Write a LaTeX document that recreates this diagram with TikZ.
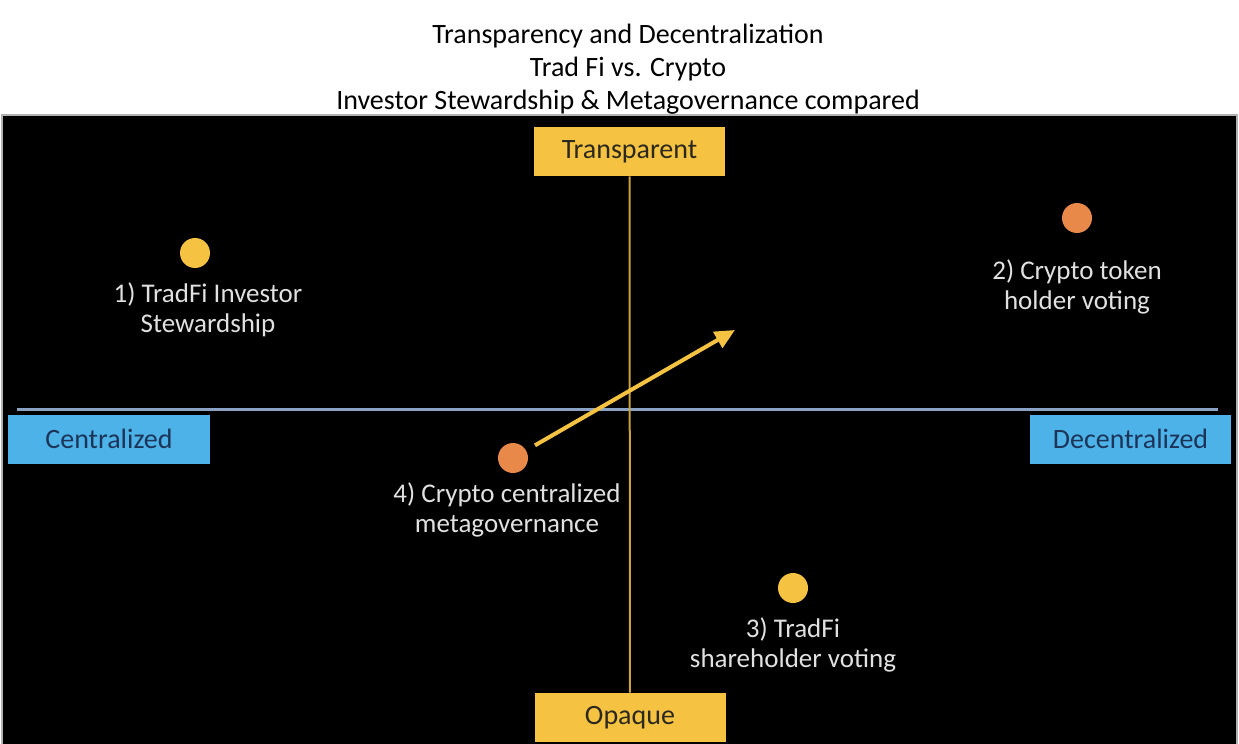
\documentclass[tikz,border=0pt]{standalone}
\usepackage{fontspec}
\setmainfont{Carlito}
\usepackage{tikz}
\usetikzlibrary{positioning, arrows.meta}
\definecolor{axisYellow}{RGB}{245, 194, 66}
\definecolor{axisBlue}{RGB}{76, 178, 232}
\definecolor{lineGold}{RGB}{201, 161, 63}
\definecolor{lineBlue}{RGB}{138, 163, 196}
\definecolor{dotOrange}{RGB}{232, 137, 74}
\definecolor{boxText}{RGB}{43, 40, 30}
\definecolor{navyText}{RGB}{28, 52, 88}
\definecolor{softWhite}{RGB}{225, 225, 225}

\begin{document}
\begin{tikzpicture}[
          x=0.5pt, y=-0.5pt,
          node distance=7pt,
          axisbox/.style={rectangle, minimum width=95.5pt, minimum height=24.5pt, inner sep=0pt, font=\fontsize{14}{16}\selectfont},
          dot/.style={circle, minimum size=15pt, inner sep=0pt},
          pointtext/.style={align=center, text=softWhite, inner sep=0pt, font=\fontsize{13.5}{15}\selectfont},
          arrow/.style={-{Triangle[length=10pt, width=9pt]}, line width=2pt}
        ]
          \useasboundingbox (0,0) rectangle (1239,744);
          \fill[white] (0,0) rectangle (1239,744);
          \node[align=center, font=\fontsize{14}{16.5}\selectfont] (title) at (628,69)
            {Transparency and Decentralization\\Trad Fi vs. Crypto\\Investor Stewardship \& Metagovernance compared};
          \fill[black, draw=gray!60, line width=0.6pt] (2,115) rectangle (1237,746);

          % axes
          \node[axisbox, fill=axisYellow, text=boxText] (transparent) at (629.5,151.5) {Transparent};
          \node[axisbox, fill=axisYellow, text=boxText] (opaque) at (630,717.5) {Opaque};
          \node[axisbox, fill=axisBlue, text=navyText, minimum width=101pt] (central) at (109,439) {Centralized};
          \node[axisbox, fill=axisBlue, text=navyText, minimum width=100.5pt] (decentral) at (1130.5,439) {Decentralized};
          \coordinate (hleft) at (17,409);
          \coordinate (hright) at (1218,409);
          \draw[lineBlue, line width=1.5pt] (hleft) -- (hright);
          \draw[lineGold, line width=1pt] (transparent) -- (opaque);

          % points
          \node[dot, fill=axisYellow] (dot1) at (195,253) {};
          \node[dot, fill=dotOrange] (dot2) at (1077,218) {};
          \node[dot, fill=axisYellow] (dot3) at (793,588) {};
          \node[dot, fill=dotOrange] (dot4) at (513,458) {};
          \node[pointtext, below=7pt of dot1, xshift=6.5pt] (text1) {1) TradFi Investor\\Stewardship};
          \node[pointtext, below=13pt of dot2] (text2) {2) Crypto token\\holder voting};
          \node[pointtext, below=7pt of dot3] (text3) {3) TradFi\\shareholder voting};
          \node[pointtext, below=4.5pt of dot4, xshift=-3pt] (text4) {4) Crypto centralized\\metagovernance};

          \coordinate (tip) at (735,330);
          \draw[arrow, axisYellow, shorten <=5pt] (dot4) -- (tip);
        \end{tikzpicture}
\end{document}
